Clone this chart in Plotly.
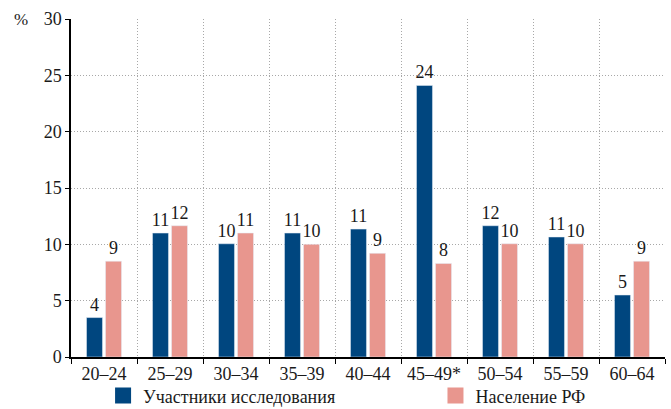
import plotly.graph_objects as go

categories = ["20–24", "25–29", "30–34", "35–39", "40–44", "45–49*", "50–54", "55–59", "60–64"]
participants = [3.5, 11.0, 10.05, 11.0, 11.35, 24.1, 11.65, 10.65, 5.5]
population = [8.5, 11.65, 11.0, 10.0, 9.2, 8.3, 10.05, 10.05, 8.5]
participants_labels = ["4", "11", "10", "11", "11", "24", "12", "11", "5"]
population_labels = ["9", "12", "11", "10", "9", "8", "10", "10", "9"]
series_names = ["Участники исследования", "Население РФ"]
yticks = [0, 5, 10, 15, 20, 25, 30]

BLUE = "#00467f"
PINK = "#e8968e"
FONT = "Times New Roman"
TXT = "#1a1a1a"

fig = go.Figure()
fig.add_trace(go.Bar(x=categories, y=participants, text=participants_labels,
                     textposition="outside", marker_color=BLUE, name=series_names[0],
                     showlegend=False, cliponaxis=False, constraintext="none",
                     textfont=dict(family=FONT, size=18, color=TXT)))
fig.add_trace(go.Bar(x=categories, y=population, text=population_labels,
                     textposition="outside", marker_color=PINK, name=series_names[1],
                     showlegend=False, cliponaxis=False, constraintext="none",
                     textfont=dict(family=FONT, size=18, color=TXT)))
# legend entries
for nm, col, lg in zip(series_names, [BLUE, PINK], ["legend", "legend2"]):
    fig.add_trace(go.Scatter(x=[None], y=[None], mode="markers", name=nm, legend=lg,
                             marker=dict(symbol="square", size=16, color=col)))

legend_common = dict(orientation="h", yanchor="middle", yref="container", y=0.032,
                     xanchor="left",
                     font=dict(family=FONT, size=18, color=TXT), itemsizing="trace",
                     bgcolor="rgba(0,0,0,0)")
fig.update_layout(
    width=671, height=409,
    margin=dict(l=71, r=6, t=19, b=52, autoexpand=False),
    plot_bgcolor="white", paper_bgcolor="white",
    barmode="group", bargap=0.424, bargroupgap=0.16,
    font=dict(family=FONT, size=18, color=TXT),
    legend=dict(x=0.054, **legend_common),
    legend2=dict(x=0.6136, **legend_common),
    annotations=[dict(text="%", xref="paper", yref="paper", x=-0.085, y=1.0,
                      xanchor="center", yanchor="middle", showarrow=False,
                      font=dict(family=FONT, size=17, color=TXT))],
)
fig.update_xaxes(showline=True, linecolor="black", linewidth=1.5,
                 ticks="outside", tickson="boundaries", ticklen=5, tickcolor="black",
                 showgrid=True, gridcolor="#a8a8a8", griddash="1px,2px", gridwidth=1,
                 tickangle=0, tickfont=dict(family=FONT, size=18, color=TXT))
fig.update_yaxes(range=[0, 30], tickvals=yticks, showline=True, linecolor="black",
                 linewidth=1.5, ticks="outside", ticklen=4, tickcolor="black",
                 showgrid=True, gridcolor="#a8a8a8", griddash="1px,2px", gridwidth=1,
                 zeroline=False, tickfont=dict(family=FONT, size=18, color=TXT))

fig.write_html("out.html")
